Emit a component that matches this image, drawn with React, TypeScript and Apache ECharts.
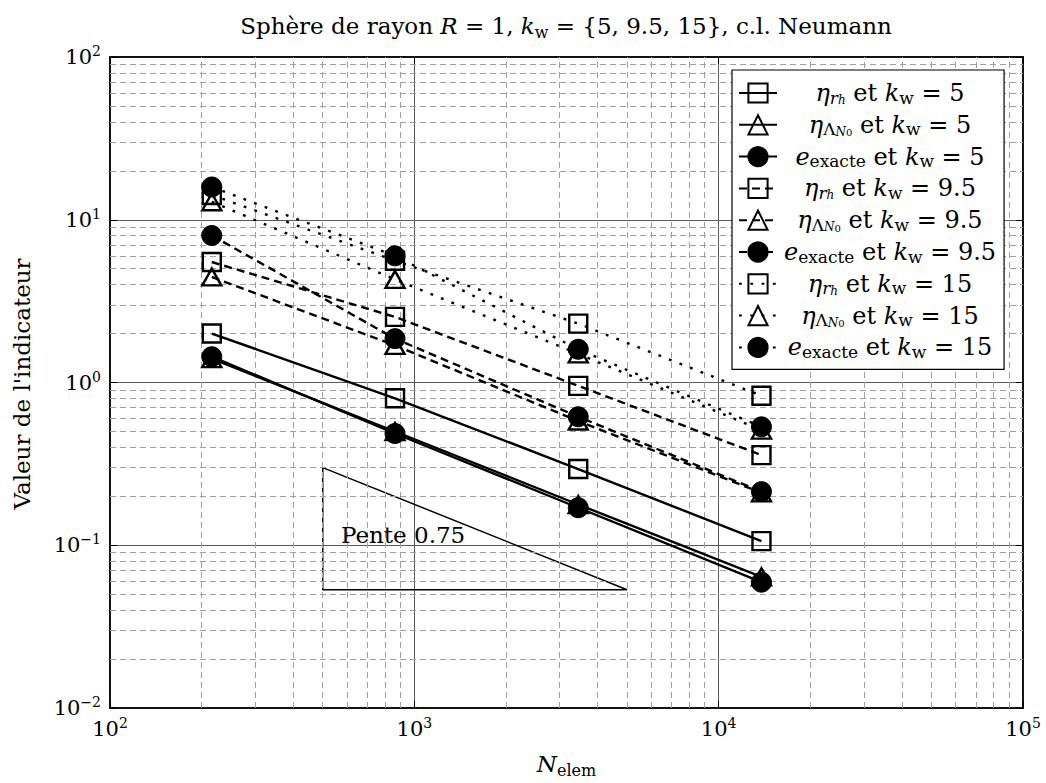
import React, { useEffect, useRef } from "react";
import * as echarts from "echarts";

// ---- data ----
const nElem = [216, 864, 3456, 13824];
const etaRh5 = [2.0, 0.8, 0.294, 0.106];
const etaLam5 = [1.4, 0.5, 0.178, 0.064];
const eEx5 = [1.44, 0.486, 0.17, 0.0593];
const etaRh95 = [5.5, 2.53, 0.954, 0.358];
const etaLam95 = [4.45, 1.69, 0.58, 0.21];
const eEx95 = [8.0, 1.86, 0.616, 0.2135];
const etaRh15 = [14.2, 5.6, 2.3, 0.829];
const etaLam15 = [12.9, 4.3, 1.5, 0.51];
const eEx15 = [15.9, 6.0, 1.6, 0.534];

const slopeX = [500, 500, 5000, 500];
const slopeY = [0.3, 0.0533, 0.0533, 0.3];

const xMinor = [200, 300, 400, 500, 600, 700, 800, 900, 2000, 3000, 4000, 5000, 6000, 7000, 8000, 9000, 20000, 30000, 40000, 50000, 60000, 70000, 80000, 90000];
const yMinor = [0.02, 0.03, 0.04, 0.05, 0.06, 0.07, 0.08, 0.09, 0.2, 0.3, 0.4, 0.5, 0.6, 0.7, 0.8, 0.9, 2, 3, 4, 5, 6, 7, 8, 9, 20, 30, 40, 50, 60, 70, 80, 90];

const FONT = "DejaVu Serif";

type Spec = { name: string; data: number[]; symbol: string; dash: any; label: string };

const etaRh = "{m|η}{si|r}{ssi|h}";
const etaLam = "{m|η}{s|Λ}{ssi|N}{sss|0}";
const eEx = "{m|e}{s|exacte}";
const kw = (v: string) => `{t| et }{m|k}{s|w}{t| = ${v}}`;

const DASH = [8, 5];
const DOT = [2.8, 8.5];

const specs: Spec[] = [
  { name: "a5", data: etaRh5, symbol: "rect", dash: "solid", label: etaRh + kw("5") },
  { name: "b5", data: etaLam5, symbol: "triangle", dash: "solid", label: etaLam + kw("5") },
  { name: "c5", data: eEx5, symbol: "circle", dash: "solid", label: eEx + kw("5") },
  { name: "a95", data: etaRh95, symbol: "rect", dash: DASH, label: etaRh + kw("9.5") },
  { name: "b95", data: etaLam95, symbol: "triangle", dash: DASH, label: etaLam + kw("9.5") },
  { name: "c95", data: eEx95, symbol: "circle", dash: DASH, label: eEx + kw("9.5") },
  { name: "a15", data: etaRh15, symbol: "rect", dash: DOT, label: etaRh + kw("15") },
  { name: "b15", data: etaLam15, symbol: "triangle", dash: DOT, label: etaLam + kw("15") },
  { name: "c15", data: eEx15, symbol: "circle", dash: DOT, label: eEx + kw("15") },
];

const supFmt = (v: number) => {
  const e = Math.round(Math.log10(v));
  return `{b|10}{p|${String(e).replace("-", "−")}}`;
};

const axisRich = {
  b: { fontFamily: FONT, fontSize: 21, lineHeight: 26, verticalAlign: "middle", color: "#000" },
  p: { fontFamily: FONT, fontSize: 14, lineHeight: 15, verticalAlign: "top", color: "#000" },
};

const C = "center";
const LF = 24;
const legendRich = {
  t: { fontFamily: FONT, fontSize: LF, lineHeight: 26, align: C, verticalAlign: "middle", color: "#000" },
  m: { fontFamily: FONT, fontSize: LF, lineHeight: 26, fontStyle: "italic", align: C, verticalAlign: "middle", color: "#000" },
  s: { fontFamily: FONT, fontSize: 17, lineHeight: 14, align: C, verticalAlign: "bottom", color: "#000" },
  si: { fontFamily: FONT, fontSize: 17, lineHeight: 14, fontStyle: "italic", align: C, verticalAlign: "bottom", color: "#000" },
  ssi: { fontFamily: FONT, fontSize: 12, lineHeight: 6, fontStyle: "italic", align: C, verticalAlign: "bottom", color: "#000" },
  sss: { fontFamily: FONT, fontSize: 10, lineHeight: 1, align: C, verticalAlign: "bottom", color: "#000" },
};

export default function App() {
  const ref = useRef<HTMLDivElement>(null);
  useEffect(() => {
    if (!ref.current) return;
    const chart = echarts.init(ref.current, null, { renderer: "svg" });

    const dataSeries = specs.map((s) => ({
      type: "line",
      name: s.name,
      data: nElem.map((x, i) => [x, s.data[i]]),
      symbol: s.symbol,
      symbolSize: s.symbol === "rect" ? 18 : s.symbol === "triangle" ? [19, 17] : 20,
      lineStyle: { color: "#000", width: 2.4, type: s.dash },
      itemStyle:
        s.symbol === "circle"
          ? { color: "#000", borderColor: "#000", borderWidth: 1 }
          : { color: "rgba(255,255,255,0)", borderColor: "#000", borderWidth: 2.4 },
      z: 5,
      silent: true,
    }));

    const helperSeries = {
      type: "line",
      name: "slope",
      data: slopeX.map((x, i) => [x, slopeY[i]]),
      symbol: "none",
      lineStyle: { color: "#000", width: 1.5 },
      z: 3,
      silent: true,
      markLine: {
        silent: true,
        symbol: ["none", "none"],
        label: { show: false },
        lineStyle: { type: [6, 4], color: "#a0a0a0", width: 1 },
        emphasis: { disabled: true },
        data: [...xMinor.map((v) => ({ xAxis: v })), ...yMinor.map((v) => ({ yAxis: v }))],
      },
    };

    const majorSplit = { show: true, lineStyle: { color: "#5a5a5a", width: 1 } };
    const frameLine = { show: true, lineStyle: { color: "#000", width: 1.5 } };
    const tick = { show: true, inside: true, length: 7, lineStyle: { color: "#000", width: 1 } };

    chart.setOption({
      animation: false,
      backgroundColor: "#fff",
      grid: { left: 110, right: 23, top: 57, bottom: 73, show: true, borderColor: "#000", borderWidth: 1.5, backgroundColor: "transparent" },
      graphic: [
        {
          type: "text",
          x: 566,
          y: 26,
          style: {
            text: "{t|Sphère de rayon }{m|R}{t| = 1, }{m|k}{s|w}{t| = {5, 9.5, 15}}{t|, c.l. Neumann}",
            align: "center",
            verticalAlign: "middle",
            fontFamily: FONT,
            fontSize: 23,
            fill: "#000",
            rich: {
              t: { fontFamily: FONT, fontSize: 23, lineHeight: 28, verticalAlign: "middle", color: "#000" },
              m: { fontFamily: FONT, fontSize: 23, lineHeight: 28, fontStyle: "italic", verticalAlign: "middle", color: "#000" },
              s: { fontFamily: FONT, fontSize: 16, lineHeight: 15, verticalAlign: "bottom", color: "#000" },
            },
          },
          z: 10,
        },
        {
          type: "text",
          x: 22,
          y: 384,
          rotation: Math.PI / 2,
          style: { text: "Valeur de l'indicateur", align: "center", verticalAlign: "middle", fontFamily: FONT, fontSize: 23, fill: "#000" },
          z: 10,
        },
        {
          type: "text",
          x: 341,
          y: 535,
          style: { text: "Pente 0.75", align: "left", verticalAlign: "middle", fontFamily: FONT, fontSize: 23, fill: "#000" },
          z: 10,
        },
      ],
      legend: {
        show: true,
        orient: "vertical",
        left: 732,
        top: 70,
        itemWidth: 38,
        itemHeight: 24,
        itemGap: 6.8,
        padding: [11, 8, 9, 6],
        backgroundColor: "#fff",
        borderColor: "#000",
        borderWidth: 1.2,
        selectedMode: false,
        data: specs.map((s) => s.name),
        formatter: (n: string) => specs.find((s) => s.name === n)!.label,
        textStyle: { width: 216, rich: legendRich, fontFamily: FONT, fontSize: LF },
        z: 20,
      },
      xAxis: [
        {
          type: "log",
          logBase: 10,
          min: 100,
          max: 100000,
          splitNumber: 3,
          position: "bottom",
          axisLine: frameLine,
          axisTick: tick,
          splitLine: majorSplit,
          axisLabel: { formatter: supFmt, rich: axisRich, margin: 8, showMinLabel: true, showMaxLabel: true },
          name: "{i|N}{s|elem}",
          nameLocation: "middle",
          nameGap: 42,
          nameTextStyle: {
            rich: {
              i: { fontFamily: FONT, fontSize: 23, lineHeight: 28, fontStyle: "italic", verticalAlign: "middle", color: "#000" },
              s: { fontFamily: FONT, fontSize: 16, lineHeight: 14, verticalAlign: "bottom", color: "#000" },
            },
          },
        },
        {
          type: "log",
          logBase: 10,
          min: 100,
          max: 100000,
          splitNumber: 3,
          position: "top",
          axisLine: frameLine,
          axisTick: tick,
          splitLine: { show: false },
          axisLabel: { show: false },
        },
      ],
      yAxis: [
        {
          type: "log",
          logBase: 10,
          min: 0.01,
          max: 100,
          splitNumber: 4,
          position: "left",
          axisLine: frameLine,
          axisTick: tick,
          splitLine: majorSplit,
          axisLabel: { formatter: supFmt, rich: axisRich, margin: 9, showMinLabel: true, showMaxLabel: true },
        },
        {
          type: "log",
          logBase: 10,
          min: 0.01,
          max: 100,
          splitNumber: 4,
          position: "right",
          axisLine: frameLine,
          axisTick: tick,
          splitLine: { show: false },
          axisLabel: { show: false },
        },
      ],
      series: [helperSeries, ...dataSeries],
    });
    return () => chart.dispose();
  }, []);
  return <div ref={ref} style={{ position: "absolute", left: 0, top: 0, width: 1046, height: 783 }} />;
}
